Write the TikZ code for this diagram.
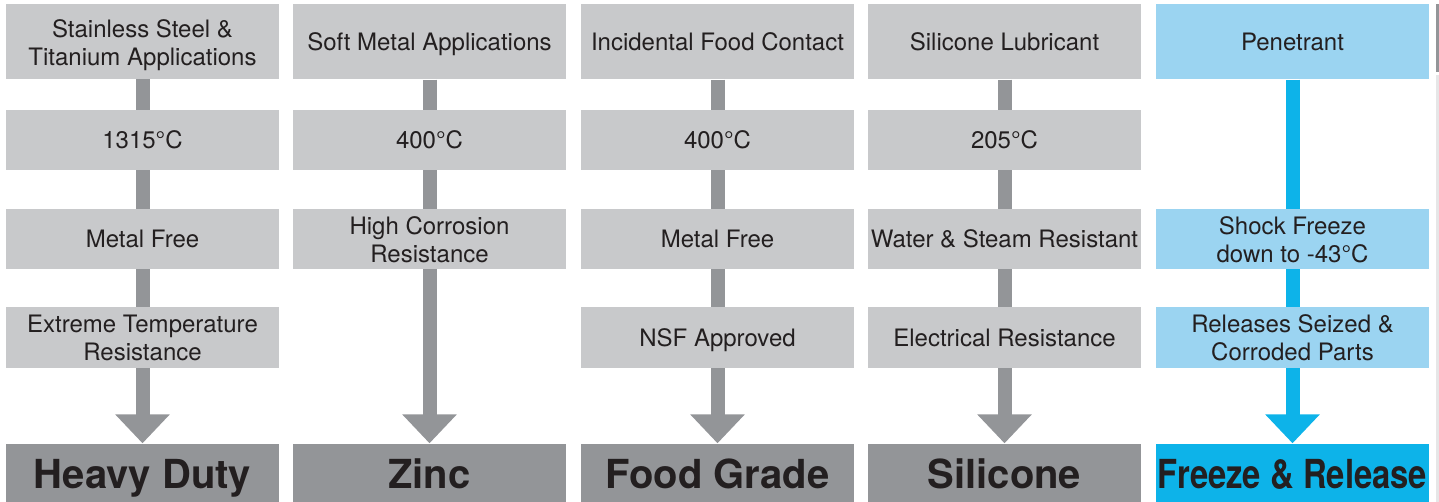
\documentclass[tikz,border=0pt]{standalone}
\usepackage{fontspec}
\setmainfont{TeX Gyre Heros}
\usepackage[]{xcolor}
\usetikzlibrary{arrows.meta,backgrounds}

\definecolor{boxgray}{HTML}{C8C9CB}
\definecolor{stemgray}{HTML}{939598}
\definecolor{edgegray}{HTML}{E6E6E7}
\definecolor{paleblue}{HTML}{9BD4F1}
\definecolor{brightblue}{HTML}{0DB3E9}
\definecolor{ink}{HTML}{231F20}

% lower a line of text without changing its box
\newcommand{\lowered}[1]{\raisebox{-4pt}[\height][\depth]{#1}}

\begin{document}
\begin{tikzpicture}[
            x=1pt, y=-1pt,
            cell/.style={rectangle, fill=boxgray, minimum width=273pt, minimum height=60pt, inner sep=0pt, align=center, text=ink, font=\fontsize{24}{28}\selectfont},
            feature/.style={cell, text height=17pt, text depth=0pt},
            usage/.style={minimum height=75pt},
            product/.style={rectangle, fill=stemgray, minimum width=273pt, minimum height=60pt, inner sep=0pt, text height=29pt, text depth=0pt, text=ink, font=\fontsize{40}{44}\selectfont\bfseries},
            stem/.style={line width=14pt, draw=stemgray, -{Triangle[width=53pt, length=29pt]}}
        ]
            \useasboundingbox (0,0) rectangle (1439,502);

            % Heavy Duty
            \node[cell, usage] (hdUse) at (142.5,41.5) {\lowered{Stainless Steel \&}\\\lowered{Titanium Applications}};
            \node[feature] (hdTemp) at (142.5,140) {1315°C};
            \node[feature] (hdFree) at (142.5,239) {Metal Free};
            \node[cell] (hdRes) at (142.5,337.5) {Extreme Temperature\\Resistance};
            \node[product] (hd) at (142.5,473.5) {Heavy Duty};

            % Zinc
            \node[feature, usage] (znUse) at (429.5,42) {Soft Metal Applications};
            \node[feature] (znTemp) at (429.5,140) {400°C};
            \node[cell] (znCorr) at (429.5,239.5) {High Corrosion\\Resistance};
            \node[product] (zn) at (429.5,473.5) {Zinc};

            % Food Grade
            \node[feature, usage] (fgUse) at (717.5,42) {Incidental Food Contact};
            \node[feature] (fgTemp) at (717.5,140) {400°C};
            \node[feature] (fgFree) at (717.5,239) {Metal Free};
            \node[feature] (fgNsf) at (717.5,337.5) {NSF Approved};
            \node[product] (fg) at (717.5,473.5) {Food Grade};

            % Silicone
            \node[feature, usage] (siUse) at (1004.5,42) {Silicone Lubricant};
            \node[feature] (siTemp) at (1004.5,140) {205°C};
            \node[feature] (siWater) at (1004.5,239) {Water \& Steam Resistant};
            \node[feature] (siElec) at (1004.5,337.5) {Electrical Resistance};
            \node[product] (si) at (1004.5,473.5) {Silicone};

            % Freeze & Release
            \node[feature, usage, fill=paleblue] (frUse) at (1292.5,42) {Penetrant};
            \node[cell, fill=paleblue] (frShock) at (1292.5,239.5) {Shock Freeze\\down to -43°C};
            \node[cell, fill=paleblue] (frSeized) at (1292.5,337.5) {Releases Seized \&\\Corroded Parts};
            \node[product, fill=brightblue] (fr) at (1292.5,473.5) {\scalebox{0.82}[1]{Freeze \& Release}};

            \begin{scope}[on background layer]
                \draw[stem] (hdUse.south) -- (hd.north);
                \draw[stem] (znUse.south) -- (zn.north);
                \draw[stem] (fgUse.south) -- (fg.north);
                \draw[stem] (siUse.south) -- (si.north);
                \draw[stem, draw=brightblue] (frUse.south) -- (fr.north);
            \end{scope}

            % edge of the next column
            \fill[stemgray] (1436,4) rectangle (1439,72);
            \fill[edgegray] (1436,75) rectangle (1439,502);
        \end{tikzpicture}
\end{document}
